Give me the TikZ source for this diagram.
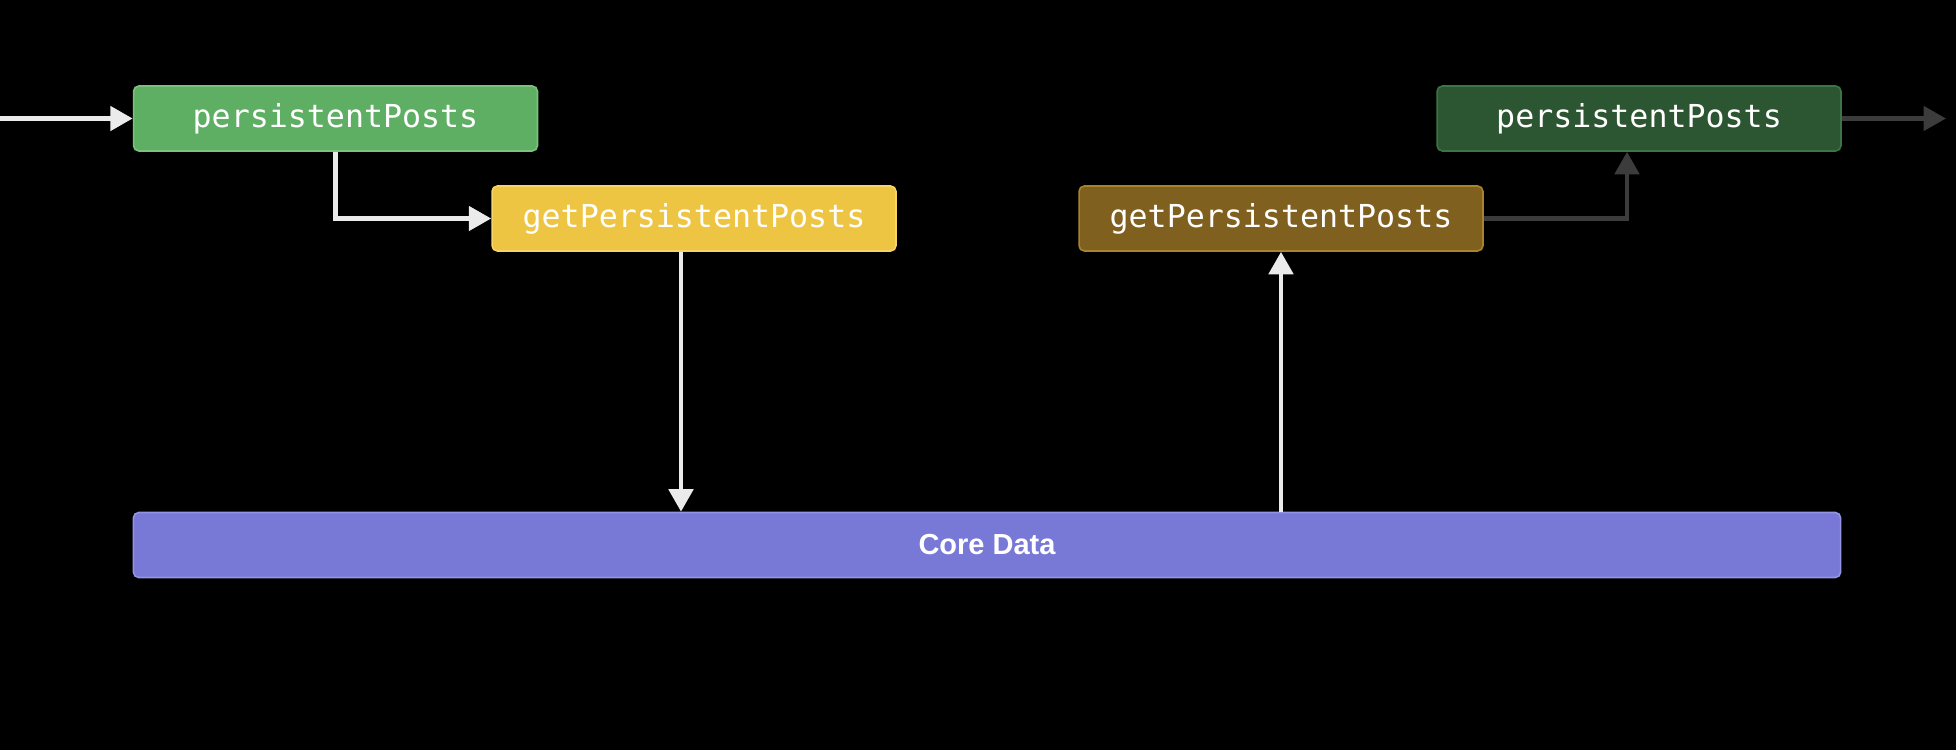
\documentclass[tikz,border=0pt]{standalone}
\usepackage{fontspec}
\setmonofont{DejaVu Sans Mono}
\setsansfont{Liberation Sans}
\usetikzlibrary{arrows.meta, positioning}
\definecolor{pgreen}{HTML}{5EAF63}
\definecolor{pgreenrim}{HTML}{7CC27F}
\definecolor{gyellow}{HTML}{EEC443}
\definecolor{gyellowrim}{HTML}{F6D468}
\definecolor{gbrown}{HTML}{80601F}
\definecolor{gbrownrim}{HTML}{A8832E}
\definecolor{pdark}{HTML}{2C5631}
\definecolor{pdarkrim}{HTML}{3E7443}
\definecolor{cdata}{HTML}{7878D7}
\definecolor{cdatarim}{HTML}{9494E6}
\definecolor{linkwhite}{HTML}{EBEBEB}
\definecolor{linkgray}{HTML}{3C3C3C}
\tikzstyle{box}=[draw, rounded corners=3pt, line width=0.9pt, text=white, minimum width=8.08cm, minimum height=1.3cm, font=\ttfamily\fontsize{18}{18}\selectfont]
\tikzstyle{link}=[line width=2.8pt, linkwhite]
\tikzset{>={Triangle[length=0.45cm, width=0.48cm]}}

\begin{document}
\begin{tikzpicture}[x=0.02cm, y=-0.02cm]
\fill[black] (0,0) rectangle (1956,750);
\useasboundingbox (0,0) rectangle (1956,750);
%
\node[box, fill=pgreen, draw=pgreenrim] (pp1) at (335.5,118.5) {persistentPosts};
\node[box, fill=gyellow, draw=gyellowrim] (gp1) at (694,218.5) {getPersistentPosts};
\node[box, fill=gbrown, draw=gbrownrim] (gp2) at (1281,218.5) {getPersistentPosts};
\node[box, fill=pdark, draw=pdarkrim] (pp2) at (1639,118.5) {persistentPosts};
\node[box, fill=cdata, draw=cdatarim, minimum width=34.15cm, font=\sffamily\bfseries\fontsize{16.5}{16.5}\selectfont] (core) at (987,545) {Core Data};
\coordinate (in) at (0,118.5);
\coordinate (out) at (1946,118.5);
%
\draw[link, ->] (in) -- (pp1.west);
\draw[link, ->] (pp1.south) |- (gp1.west);
\draw[link, ->] ([xshift=-0.26cm]gp1.south) -- ([xshift=-0.26cm]gp1.south |- core.north);
\draw[link, ->] (core.north -| gp2.south) -- (gp2.south);
%
\draw[link, linkgray, ->] (gp2.east) -| ([xshift=-0.24cm]pp2.south);
\draw[link, linkgray, ->] (pp2.east) -- (out);
%
\end{tikzpicture}
\end{document}
